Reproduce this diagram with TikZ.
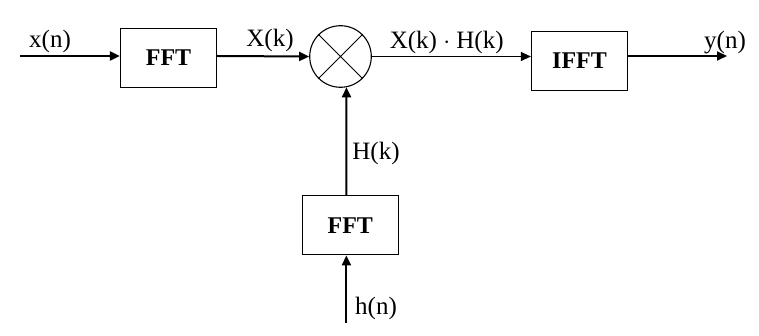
\documentclass[tikz,border=0pt]{standalone}
\usepackage{fontspec}
\setmainfont{Liberation Serif}
\usetikzlibrary{arrows.meta}
\begin{document}
\begin{tikzpicture}[x=1pt,y=-1pt,
  blk/.style={draw,line width=1.2pt,minimum width=96pt,minimum height=59pt,inner sep=0pt,font=\fontsize{24}{24}\selectfont\bfseries},
  lbl/.style={inner sep=0pt,font=\fontsize{25}{25}\selectfont},
  thk/.style={line width=2pt,-{Triangle[length=10pt,width=9pt]}},
  thn/.style={line width=1.2pt,-{Triangle[length=10pt,width=9pt]}}]
\useasboundingbox (0,0) rectangle (759,336);
\node[blk] (fft1) at (168.5,58) {FFT};
\node[blk] (ifft) at (579.5,61) {IFFT};
\node[blk] (fft2) at (350.3,225.3) {FFT};
\node[draw,circle,line width=1.1pt,minimum size=61.6pt,inner sep=0pt] (m) at (340.5,56.5) {};
\draw[line width=1pt] (m.45) -- (m.225) (m.135) -- (m.315);
\coordinate (xin) at (20,56);
\coordinate (yout) at (727,56);
\coordinate (hin) at (346.4,323);
\draw[thk] (xin) -- (xin -| fft1.west);
\draw[thk] (fft1.east |- xin) -- (m.west);
\draw[thn] (m.east) -- (m.east -| ifft.west);
\draw[thk] (ifft.east |- yout) -- (yout);
\draw[thk] (hin) -- (hin |- fft2.south);
\draw[thk] (fft2.north -| hin) -- (m.-79);
\node[lbl] (lx) at (50,41) {x(n)};
\node[lbl] (lX) at (270,40) {X(k)};
\node[lbl] (lXH) at (446.7,42) {X(k) $\cdot$ H(k)};
\node[lbl] (ly) at (725,42.5) {y(n)};
\node[lbl] (lH) at (376,153) {H(k)};
\node[lbl] (lh) at (376,308) {h(n)};
\end{tikzpicture}
\end{document}
